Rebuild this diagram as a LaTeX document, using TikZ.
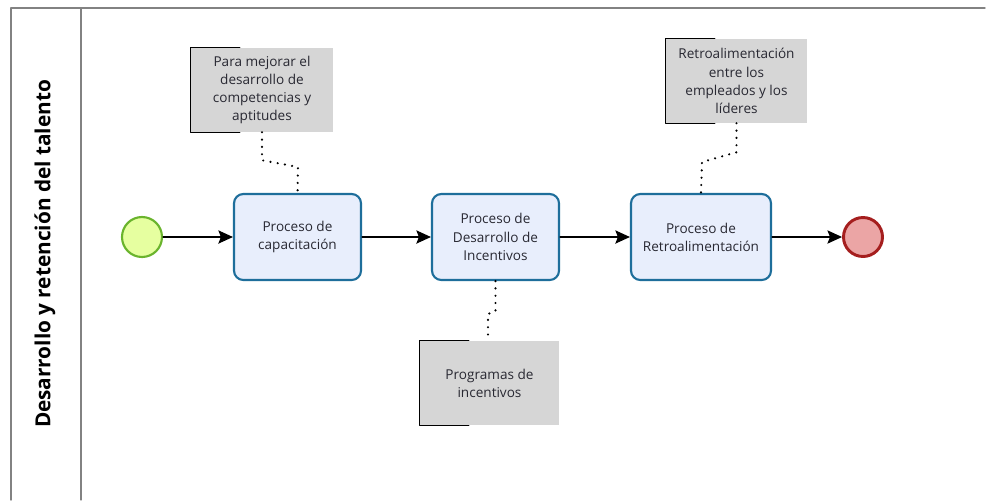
\documentclass[tikz,border=0pt]{standalone}
\usepackage{fontspec}
\setmainfont{Open Sans}
\usepackage{tikz}
\usetikzlibrary{arrows.meta, calc, positioning}
\definecolor{startfill}{RGB}{230, 255, 160}
\definecolor{startline}{RGB}{106, 180, 45}
\definecolor{endfill}{RGB}{235, 165, 165}
\definecolor{endline}{RGB}{165, 30, 30}
\definecolor{taskfill}{RGB}{232, 238, 252}
\definecolor{taskline}{RGB}{30, 110, 155}
\definecolor{notefill}{RGB}{214, 214, 214}
\definecolor{laneline}{RGB}{130, 130, 130}
\definecolor{textcol}{RGB}{40, 40, 50}
\newlength{\pxu}
\setlength{\pxu}{0.0264cm}

\tikzset{
  task/.style={draw=taskline, fill=taskfill, line width=1.6pt, rounded corners=7pt,
    minimum width=127\pxu, minimum height=86\pxu, align=center, inner sep=2pt,
    text=textcol, font=\fontsize{10.2}{13.6}\selectfont},
  note/.style={fill=notefill, minimum height=84\pxu, align=center, inner sep=2pt,
    text=textcol, font=\fontsize{10.2}{13.6}\selectfont},
  startev/.style={circle, draw=startline, fill=startfill, line width=1.6pt, minimum size=40\pxu, inner sep=0pt},
  endev/.style={circle, draw=endline, fill=endfill, line width=2.2pt, minimum size=39\pxu, inner sep=0pt},
  flow/.style={-{Stealth[length=11pt, width=10pt, inset=2pt]}, line width=0.9pt},
  assoc/.style={line width=1.8pt, dash pattern=on 0pt off 5.5pt, line cap=round},
}

\begin{document}
\begin{tikzpicture}[x=\pxu, y=-\pxu, line cap=round, line join=round]
	\useasboundingbox (0,0) rectangle (986,500);

	% pool and lane
	\draw [laneline, line width=1pt] (985,8) -- (11,8) -- (11,500);
	\draw [laneline, line width=0.8pt] (81,8) -- (81,500);
	\node [rotate=90, font=\fontsize{15.6}{18}\selectfont\bfseries] (lane) at (45,254) {Desarrollo y retención del talento};

	% events and tasks
	\node [startev] (start) at (142,237) {};
	\node [task] (capac) at (297.5,237) {Proceso de\\capacitación};
	\node [task] (incent) at (495.5,237) {Proceso de\\Desarrollo de\\Incentivos};
	\node [task, minimum width=140\pxu] (retro) at (701,237) {Proceso de\\Retroalimentación};
	\node [endev] (finish) at (863,237) {};

	% annotations
	\node [note, minimum width=142\pxu] (ann1) at (262,90) {Para mejorar el\\desarrollo de\\competencias y\\aptitudes};
	\node [note, minimum width=141\pxu] (ann2) at (736.5,81) {Retroalimentación\\entre los\\empleados y los\\líderes};
	\node [note, minimum width=139\pxu] (ann3) at (489.5,383) {Programas de\\incentivos};

	\foreach \a in {ann1, ann2, ann3}
		\draw [line width=1pt] ($(\a.north west)+(49,0)$) -- (\a.north west) -- (\a.south west) -- ($(\a.south west)+(49,0)$);

	% sequence flows
	\draw [flow] (start) -- (capac);
	\draw [flow] (capac) -- (incent);
	\draw [flow] (incent) -- (retro);
	\draw [flow] (retro) -- (finish);

	% associations
	\draw [assoc] (ann1.south) -- ++(0,28) -- (298,167) -- (capac.north);
	\draw [assoc] (ann2.south) -- ++(0,29) -- (702,162) -- (retro.north);
	\draw [assoc] (incent.south) -- ++(0,30) -- (488,314) -- (ann3.north -| 488,0);
\end{tikzpicture}
\end{document}
